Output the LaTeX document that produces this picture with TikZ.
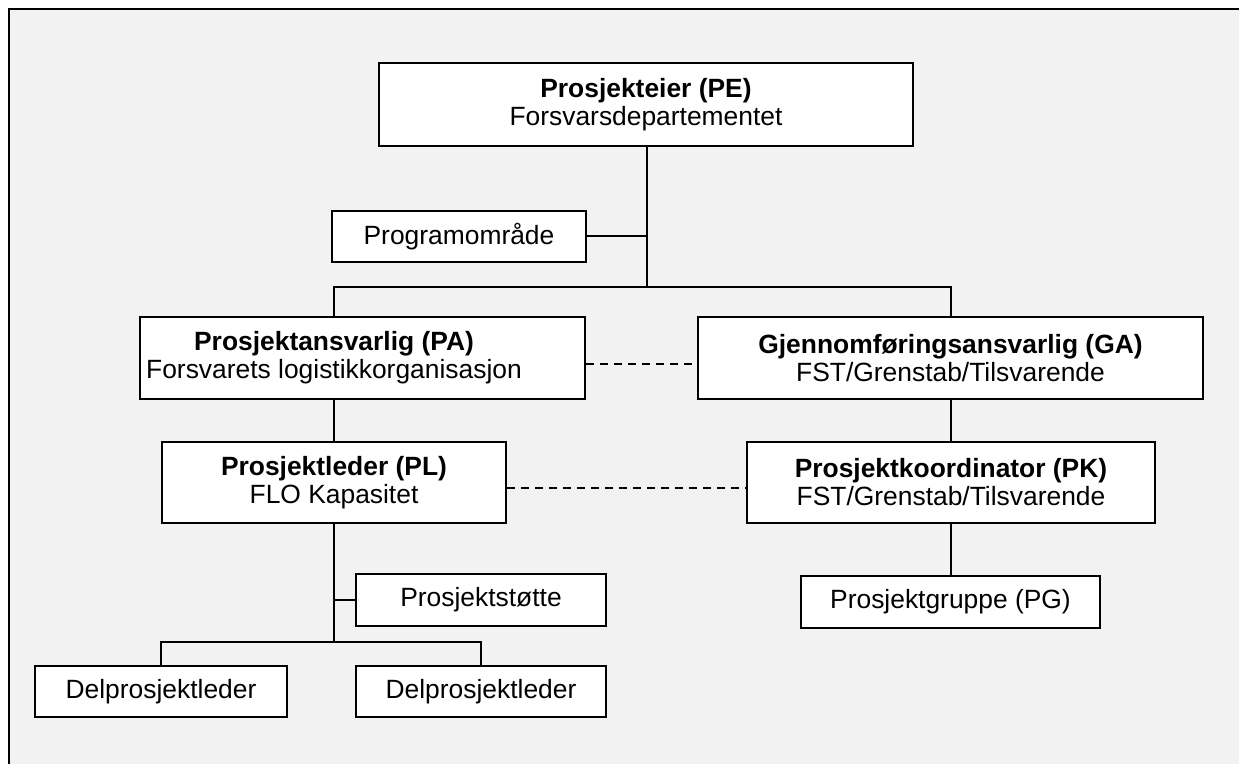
\documentclass[tikz,border=0pt]{standalone}
\usepackage{fontspec}
\setmainfont{Liberation Sans}
\usetikzlibrary{calc}

\begin{document}
\begin{tikzpicture}[x=0.5pt, y=-0.5pt,
    box/.style={draw, fill=white, line width=1pt, inner sep=0pt,
      align=center, font=\fontsize{13.2}{14}\selectfont},
    wh/.style 2 args={minimum width=#1*0.5pt, minimum height=#2*0.5pt},
    link/.style={line width=1pt},
    peer/.style={line width=1pt, dash pattern=on 4pt off 3pt}]
  % frame
  \useasboundingbox (0,0) rectangle (1239,764);
  \fill[gray!10] (9,9) rectangle (1239,764);
  \draw[line width=1pt] (9,764) -- (9,9) -- (1239,9);

  \node[box, wh={534}{83}] (pe) at (646,104.5)
    {\textbf{Prosjekteier (PE)}\\Forsvarsdepartementet};
  \node[box, wh={254}{51}] (prog) at (459,236.5)
    {Programområde};
  \node[box, wh={445}{82}] (pa) at (362.5,358) {};
  \node[align=center, font=\fontsize{13.2}{14}\selectfont] (patext) at (334,358)
    {\textbf{Prosjektansvarlig (PA)}\\Forsvarets logistikkorganisasjon};
  \node[box, wh={505}{82}] (ga) at (950.5,358)
    {\textbf{Gjennomføringsansvarlig (GA)}\\FST/Grenstab/Tilsvarende};
  \node[box, wh={344}{81}] (pl) at (334,482.5)
    {\textbf{Prosjektleder (PL)}\\FLO Kapasitet};
  \node[box, wh={408}{81}] (pk) at (951,482.5)
    {\textbf{Prosjektkoordinator (PK)}\\FST/Grenstab/Tilsvarende};
  \node[box, wh={250}{52}] (stotte) at (481,600)
    {Prosjektstøtte};
  \node[box, wh={299}{52}] (pg) at (950.5,602)
    {Prosjektgruppe (PG)};
  \node[box, wh={252}{51}] (dpl1) at (161,691.5)
    {Delprosjektleder};
  \node[box, wh={250}{51}] (dpl2) at (481,691.5)
    {Delprosjektleder};

  \coordinate (top) at (647,287);
  \coordinate (bot) at (334,642);

  \draw[link] (pe.south -| top) -- (top);
  \draw[link] (prog.east) -- (prog.east -| top);
  \draw[link] (pa.north -| patext) |- (top) -| (ga.north);
  \draw[link] (pa.south -| pl.north) -- (pl.north);
  \draw[link] (ga.south -| pk.north) -- (pk.north);
  \draw[link] (pk.south) -- (pk.south -| pg.north) -- (pg.north);
  \draw[link] (pl.south) -- (bot);
  \draw[link] (stotte.west) -- (stotte.west -| bot);
  \draw[link] (dpl1.north) |- (bot) -| (dpl2.north);

  \draw[peer] ([yshift=-3pt]pa.east) -- ([yshift=-3pt]ga.west);
  \draw[peer] ([yshift=-2.75pt]pl.east) -- ([yshift=-2.75pt]pk.west);
\end{tikzpicture}
\end{document}
